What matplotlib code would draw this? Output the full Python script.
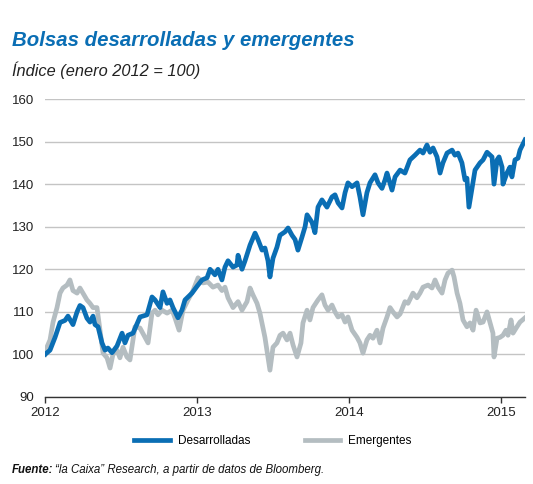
import matplotlib
matplotlib.use("Agg")
import matplotlib.pyplot as plt

# fechas en años decimales (2012.0 = enero 2012)
t_des = [0.000, 0.033, 0.066, 0.099, 0.132, 0.151, 0.184, 0.211, 0.230, 0.250,
         0.276, 0.296, 0.316, 0.329, 0.349, 0.375, 0.395, 0.414, 0.441, 0.474,
         0.507, 0.526, 0.546, 0.579, 0.625, 0.671, 0.704, 0.724, 0.757, 0.776,
         0.803, 0.822, 0.842, 0.875, 0.901, 0.921, 0.967, 1.000, 1.033, 1.066,
         1.086, 1.118, 1.138, 1.164, 1.184, 1.204, 1.237, 1.263, 1.270, 1.296,
         1.316, 1.349, 1.382, 1.401, 1.428, 1.447, 1.467, 1.480, 1.500, 1.526,
         1.546, 1.579, 1.599, 1.625, 1.645, 1.664, 1.691, 1.711, 1.724, 1.757,
         1.776, 1.796, 1.822, 1.855, 1.888, 1.908, 1.928, 1.954, 1.974, 1.993,
         2.020, 2.053, 2.072, 2.092, 2.118, 2.138, 2.171, 2.191, 2.217, 2.237,
         2.250, 2.283, 2.303, 2.336, 2.368, 2.401, 2.434, 2.467, 2.487, 2.513,
         2.533, 2.553, 2.579, 2.599, 2.618, 2.645, 2.678, 2.697, 2.717, 2.743,
         2.763, 2.776, 2.789, 2.809, 2.829, 2.862, 2.882, 2.908, 2.941, 2.954,
         2.974, 2.987, 3.007, 3.013, 3.039, 3.059, 3.072, 3.092, 3.112, 3.125,
         3.158]
desarrolladas = [100, 101, 104, 107.5, 108, 109, 107, 110, 111.5, 111,
                 108.5, 107.6, 109, 107, 106.5, 102.7, 101, 101.5, 100.4, 102,
                 105, 102.7, 104.5, 105, 108.8, 109.3, 113.5, 112.8, 111, 114.7,
                 112, 112.8, 111, 108.6, 110.4, 112.8, 114.4, 116, 117.5, 118,
                 120, 118.7, 120, 117.5, 120.5, 122, 120.5, 121, 123.3, 120,
                 122, 125.7, 128.5, 127, 124.5, 125, 122, 118.2, 122.6, 125.2,
                 128, 128.8, 129.7, 128, 127, 124.5, 127.6, 130, 132.8, 131,
                 128.6, 134.6, 136.3, 134.6, 137, 137.5, 135.6, 134.4, 138, 140.3,
                 139.4, 140.3, 137, 132.8, 138, 140.3, 142.2, 140.3, 139, 141,
                 142.6, 138.6, 141.7, 143.3, 142.6, 145.7, 146.8, 148, 147.3, 149.2,
                 147.5, 148.5, 146.4, 142.6, 145, 147.3, 148, 146.8, 147.3, 145,
                 141, 141.4, 134.6, 139, 143.3, 145, 145.7, 147.5, 146.4, 140,
                 145.7, 146.4, 144, 140, 142.6, 144, 141.7, 145.7, 146.1, 148,
                 150.4]

t_emer = [0.000, 0.016, 0.033, 0.053, 0.079, 0.099, 0.118, 0.145, 0.164, 0.184,
          0.211, 0.230, 0.250, 0.276, 0.296, 0.316, 0.342, 0.362, 0.382, 0.408,
          0.428, 0.447, 0.474, 0.493, 0.513, 0.539, 0.559, 0.592, 0.625, 0.658,
          0.678, 0.704, 0.724, 0.743, 0.770, 0.803, 0.836, 0.855, 0.882, 0.908,
          0.941, 0.974, 1.007, 1.039, 1.072, 1.105, 1.138, 1.164, 1.184, 1.204,
          1.237, 1.270, 1.296, 1.329, 1.349, 1.368, 1.395, 1.414, 1.447, 1.467,
          1.480, 1.500, 1.526, 1.546, 1.566, 1.592, 1.612, 1.632, 1.658, 1.684,
          1.697, 1.724, 1.743, 1.763, 1.796, 1.822, 1.842, 1.862, 1.888, 1.908,
          1.928, 1.954, 1.974, 1.993, 2.020, 2.053, 2.072, 2.092, 2.118, 2.138,
          2.158, 2.184, 2.204, 2.224, 2.250, 2.270, 2.289, 2.316, 2.336, 2.368,
          2.388, 2.421, 2.447, 2.467, 2.487, 2.520, 2.546, 2.566, 2.586, 2.612,
          2.632, 2.651, 2.678, 2.691, 2.711, 2.730, 2.750, 2.776, 2.796, 2.816,
          2.836, 2.862, 2.882, 2.908, 2.928, 2.947, 2.954, 2.974, 2.993, 3.013,
          3.033, 3.046, 3.066, 3.079, 3.105, 3.125, 3.158]
emergentes = [100, 102, 103.4, 107.6, 111, 114.4, 115.6, 116.3, 117.5, 115,
              114.4, 115.6, 114.4, 112.8, 112, 111, 111, 105.7, 100.3, 99.2,
              96.8, 100, 101, 99.2, 101.7, 99.4, 98.7, 106.5, 106.2, 104,
              102.7, 109.7, 110.4, 109.3, 110.4, 109.7, 110.4, 108.6, 105.7, 110.4,
              112.8, 115, 118, 116.8, 117, 115.8, 116.3, 115, 115.8, 113.3,
              111, 112.4, 110.4, 112.4, 115.6, 114, 112, 109.7, 104, 99.4,
              96.3, 101.7, 102.7, 104.5, 105, 103.4, 105, 102.2, 99.4, 102.7,
              107.4, 110.4, 108.1, 111, 112.8, 114, 111.6, 110.4, 111.6, 110,
              108.8, 109.3, 107.6, 108.8, 105.7, 104, 102.7, 100.3, 103.4, 104.5,
              103.8, 105.7, 102.7, 106.2, 108.8, 111, 110, 108.8, 109.5, 112.4,
              112, 114.4, 113.3, 114.4, 115.8, 116.3, 115.6, 117.5, 115.8, 114.4,
              117.5, 119.1, 119.8, 118.2, 114.4, 112, 108.1, 106.5, 107.4, 105.7,
              110.4, 107.4, 107.6, 110, 107.4, 105, 99.4, 103.8, 104, 104.5,
              105.7, 104.5, 108.1, 105, 106.5, 107.6, 108.6]

years = [2012, 2013, 2014, 2015]
yticks = [90, 100, 110, 120, 130, 140, 150, 160]

azul = "#0a6eb4"
gris = "#b4bdc1"

plt.rcParams["font.family"] = ["Liberation Sans", "DejaVu Sans"]

fig = plt.figure(figsize=(5.33, 4.84), dpi=100)
ax = fig.add_axes([45 / 533, 87 / 484, 480 / 533, 298 / 484])

ax.plot([2012 + v for v in t_emer], emergentes, color=gris, lw=3.4,
        solid_joinstyle="round", label="Emergentes", zorder=3)
ax.plot([2012 + v for v in t_des], desarrolladas, color=azul, lw=3.4,
        solid_joinstyle="round", label="Desarrolladas", zorder=4)

ax.set_xlim(2012, 2012 + 480 / 152)
ax.set_ylim(90, 160)
ax.set_yticks(yticks)
ax.set_xticks(years)
ax.set_xticklabels([str(y) for y in years])
ax.yaxis.grid(True, color="#c4c4c4", lw=1)
ax.set_axisbelow(True)
for s in ["top", "right", "left"]:
    ax.spines[s].set_visible(False)
ax.spines["bottom"].set_color("#333333")
ax.spines["bottom"].set_linewidth(1)
ax.tick_params(axis="y", length=0, pad=7.5, labelsize=9.5, colors="#222222")
ax.tick_params(axis="x", length=4, width=1, color="#333333", pad=3,
               labelsize=9.5, labelcolor="#222222")

fig.text(12 / 533, 1 - 46 / 484, "Bolsas desarrolladas y emergentes",
         color=azul, fontsize=14.7, fontweight="bold", fontstyle="italic",
         va="baseline")
fig.text(12 / 533, 1 - 76 / 484, "Índice (enero 2012 = 100)",
         color="#222222", fontsize=11.8, fontstyle="italic", va="baseline")

h, l = ax.get_legend_handles_labels()
fig.legend(h[::-1], l[::-1], loc="center", bbox_to_anchor=(0.512, 1 - 441 / 484),
           ncol=2, frameon=False, fontsize=8.5, handlelength=3.0,
           columnspacing=4.6, handletextpad=0.7)

fig.text(12 / 533, 1 - 473 / 484, "Fuente:", fontsize=8.3, fontweight="bold",
         fontstyle="italic", va="baseline", color="#111111")
fig.text(55 / 533, 1 - 473 / 484,
         "“la Caixa” Research, a partir de datos de Bloomberg.",
         fontsize=8.3, fontstyle="italic", va="baseline", color="#111111")

fig.savefig("out.png", dpi=100)
